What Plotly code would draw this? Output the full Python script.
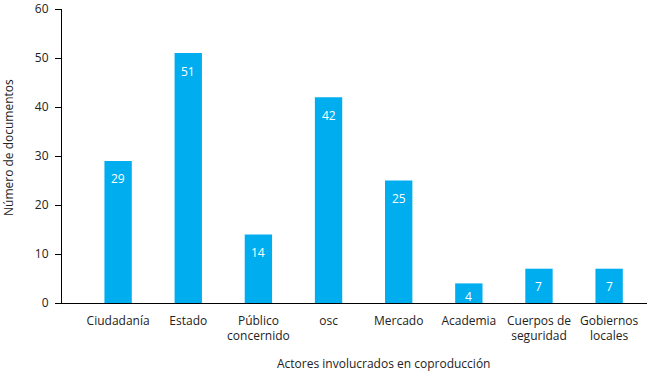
import plotly.graph_objects as go

categories = ["Ciudadanía", "Estado", "Público<br>concernido", "osc", "Mercado",
              "Academia", "Cuerpos de<br>seguridad", "Gobiernos<br>locales"]
values = [29, 51, 14, 42, 25, 4, 7, 7]
y_ticks = [0, 10, 20, 30, 40, 50, 60]

font_family = "Open Sans, Noto Sans, sans-serif"
bar_color = "#00AEEF"

W, H = 650, 373
ML, MR, MT, MB = 62, 3, 9, 70
plot_h = H - MT - MB
px_per_unit = plot_h / 60.0

fig = go.Figure()
fig.add_trace(go.Bar(
    x=list(range(len(categories))), y=values,
    marker=dict(color=bar_color, line=dict(width=0)),
    width=0.39,
    hoverinfo="skip",
))

for i, v in enumerate(values):
    shift = -min(18, v * px_per_unit - 7)
    fig.add_annotation(x=i, y=v, text=str(v), showarrow=False,
                       yanchor="middle", yshift=shift,
                       font=dict(color="white", size=12, family=font_family))

fig.add_annotation(xref="paper", yref="paper", x=(383 - ML) / (W - ML - MR), y=-(364 - 303) / plot_h,
                   text="Actores involucrados en coproducción", showarrow=False,
                   xanchor="center", yanchor="middle",
                   font=dict(color="#222", size=12, family=font_family))

fig.add_annotation(xref="paper", yref="paper", x=(8 - ML) / (W - ML - MR), y=(303 - 148) / plot_h,
                   text="Número de documentos", showarrow=False, textangle=-90,
                   xanchor="center", yanchor="middle",
                   font=dict(color="#222", size=12, family=font_family))

fig.update_layout(
    width=W, height=H,
    margin=dict(l=ML, r=MR, t=MT, b=MB, autoexpand=False),
    paper_bgcolor="white", plot_bgcolor="white",
    showlegend=False,
    font=dict(family=font_family, size=12, color="#222"),
    xaxis=dict(
        tickmode="array", tickvals=list(range(len(categories))), ticktext=categories,
        range=[-0.8, 7.54], showgrid=False, zeroline=False, automargin=False,
        showline=True, linecolor="black", linewidth=1.2,
        ticks="", tickfont=dict(size=12, color="#222"), ticklabelstandoff=6,
    ),
    yaxis=dict(
        range=[0, 60], tickmode="array", tickvals=y_ticks,
        showgrid=False, zeroline=False, automargin=False,
        showline=True, linecolor="black", linewidth=1.2,
        ticks="outside", ticklen=6, tickcolor="black", tickwidth=1,
        tickfont=dict(size=12, color="#222"), ticklabelstandoff=4,
    ),
)

fig.write_html("out.html", config={"displayModeBar": False},
               post_script="document.body.style.margin='0';document.body.style.overflow='hidden';")
